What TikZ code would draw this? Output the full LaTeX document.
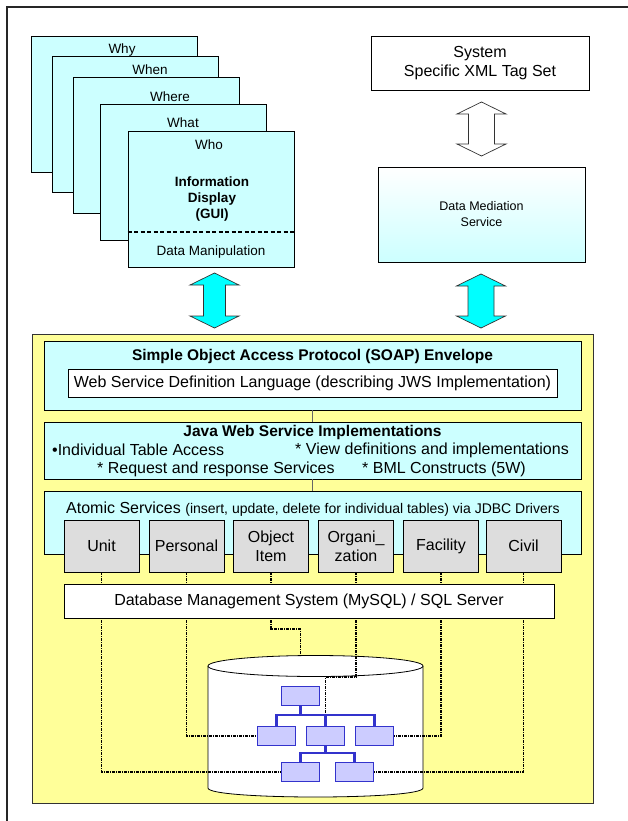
\documentclass[tikz,border=0pt]{standalone}
\usepackage{fontspec}
\setmainfont{Liberation Sans}
\usetikzlibrary{positioning}
\definecolor{PanelYellow}{HTML}{FFFF99}
\definecolor{LightCyan}{HTML}{CCFFFF}
\definecolor{ArrowCyan}{HTML}{00FFFF}
\definecolor{BoxGray}{HTML}{DDDDDD}
\definecolor{TreeFill}{HTML}{CCCCFF}
\definecolor{TreeBlue}{HTML}{3333CC}
\newcommand{\fsz}[2]{\fontsize{#1}{#2}\selectfont}
% block double arrow: style, centre x, top y, bottom y, shaft half width, head half width
\newcommand{\blockarrow}[6]{%
  \draw[#1] (#2,#3) -- (#2+#6,#3+12) -- (#2+#5,#3+12) -- (#2+#5,#4-12) -- (#2+#6,#4-12)
    -- (#2,#4) -- (#2-#6,#4-12) -- (#2-#5,#4-12) -- (#2-#5,#3+12) -- (#2-#6,#3+12) -- cycle;}
\pgfdeclarelayer{bg}
\pgfdeclarelayer{lines}
\pgfsetlayers{bg,lines,main}
\tikzset{
  frame/.style={line width=1.4pt, draw=black!85},
  card/.style={draw, fill=LightCyan, line width=0.8pt, minimum width=166pt, minimum height=136pt, inner sep=0pt},
  cardtext/.style={inner sep=0pt, font=\fsz{13.5}{16}},
  guisep/.style={line width=1.5pt, dash pattern=on 4pt off 2.5pt},
  plainbox/.style={draw, fill=white, line width=0.8pt, inner sep=0pt, align=center, font=\fsz{16}{19}},
  mediabox/.style={draw, top color=white, bottom color=LightCyan, line width=0.8pt, inner sep=0pt, align=center,
    minimum width=207pt, minimum height=95pt, font=\fsz{12.5}{16}},
  hollowarrow/.style={line width=0.7pt, draw=black!80, fill=white, line join=miter},
  cyanarrow/.style={line width=0.7pt, draw=black!80, fill=ArrowCyan, line join=miter},
  panel/.style={draw=black!80, fill=PanelYellow, line width=1pt, minimum width=561pt, minimum height=469pt, inner sep=0pt},
  cyanbox/.style={draw, fill=LightCyan, line width=0.8pt, minimum width=537pt, inner sep=0pt},
  titletext/.style={inner sep=0pt, font=\fsz{15.5}{18}\bfseries},
  bodytext/.style={inner sep=0pt, font=\fsz{16}{19}},
  stackline/.style={line width=0.8pt, draw=black!60},
  graybox/.style={draw, fill=BoxGray, line width=0.8pt, minimum width=75pt, minimum height=52pt, inner sep=0pt,
    align=center, font=\fsz{16}{19}},
  treebox/.style={draw=TreeBlue, fill=TreeFill, line width=1.8pt, minimum width=38pt, minimum height=19pt, inner sep=0pt},
  treeline/.style={draw=TreeBlue, line width=2.2pt},
  dbline/.style={line width=1.1pt, dash pattern=on 3pt off 1pt on 1pt off 1pt},
}

\begin{document}
\begin{tikzpicture}[x=1pt, y=-1pt]
  \useasboundingbox (0,0) rectangle (628,821);
  \begin{pgfonlayer}{bg}
    \fill[white] (0,0) rectangle (628,821);
  \end{pgfonlayer}
  \draw[frame] (7,821) -- (7,7) -- (628,7);

  % the 5W display cards
  \foreach \name/\cx/\cy/\lx/\ly/\txt in {why/114/104/122/50/Why,when/135/124/150/70/When,%
      where/156/145/170/97/Where,what/183/172/183/123/What,who/211/199/209/145/Who}{%
    \node[card] (c\name) at (\cx,\cy) {};
    \node[cardtext] (l\name) at (\lx,\ly) {\txt};
  }
  \node[cardtext, align=center, font=\fsz{13.5}{16}\bfseries] (gui) at (212,199) {Information\\Display\\(GUI)};
  \draw[guisep] (cwho.west |- 0,232) -- (cwho.east |- 0,232);
  \node[cardtext] (manip) at (211,252) {Data Manipulation};

  % mediation column
  \node[plainbox, minimum width=218pt, minimum height=54pt] (sysxml) at (480,63) {System\\Specific XML Tag Set};
  \node[mediabox] (mediation) at (481.5,214.5) {Data Mediation\\Service};
  \blockarrow{hollowarrow}{481.5}{102}{156}{13}{24.5}
  \blockarrow{cyanarrow}{481}{274}{328}{13}{24.5}
  \blockarrow{cyanarrow}{214.5}{273}{328}{11}{24.5}

  % web service panel
  \begin{pgfonlayer}{bg}
    \node[panel] (panel) at (312.5,568.5) {};
    \coordinate (cyl) at (315.5,666);
    \draw[fill=white, line width=0.8pt] (208,666) -- (208,788)
      .. controls (208,800) and (423,800) .. (423,788) -- (423,666);
    \draw[fill=white, line width=0.8pt] (cyl) ellipse [x radius=107.5, y radius=10.5];
  \end{pgfonlayer}

  \node[cyanbox, minimum height=69pt] (soap) at (312.5,375.5) {};
  \node[titletext] (soaptitle) at (312.5,356) {Simple Object Access Protocol (SOAP) Envelope};
  \node[plainbox, minimum width=489pt, minimum height=28pt] (wsdl) at (312.5,383)
    {Web Service Definition Language (describing JWS Implementation)};

  \node[cyanbox, minimum height=57pt] (jws) at (312.5,450.5) {};
  \node[titletext] (jwstitle) at (312.5,432) {Java Web Service Implementations};
  \node[bodytext, anchor=west] (item1) at (52,450) {•Individual Table Access};
  \node[bodytext, anchor=west] (item2) at (295,450) {* View definitions and implementations};
  \node[bodytext, anchor=west] (item3) at (97,469) {* Request and response Services};
  \node[bodytext, anchor=west] (item4) at (362,469) {* BML Constructs (5W)};

  \node[cyanbox, minimum height=63pt] (atomic) at (312.5,522.5) {};
  \node[bodytext, anchor=west] (atomictitle) at (66,509)
    {Atomic Services {\fsz{14}{16}(insert, update, delete for individual tables) via JDBC Drivers}};
  \draw[stackline] (soap) -- (jws);
  \draw[stackline] (jws) -- (atomic);

  \foreach \name/\cx/\txt in {unit/101.5/Unit,personal/186.5/Personal,objitem/271/{Object\\Item},%
      organi/356/{Organi\_\\zation},facility/441/Facility,civil/523.5/Civil}{%
    \node[graybox] (\name) at (\cx,546) {\txt};
  }
  \node[plainbox, minimum width=490pt, minimum height=34pt] (dbms) at (309,601)
    {Database Management System (MySQL) / SQL Server};

  % table tree inside the database
  \node[treebox] (troot) at (300.5,696) {};
  \node[treebox] (tl) at (276.5,736) {};
  \node[treebox] (tc) at (325.5,736) {};
  \node[treebox] (tr) at (374.5,736) {};
  \node[treebox] (tbl) at (300.5,772) {};
  \node[treebox] (tbr) at (354.5,772) {};
  \coordinate (barone) at (0,715);
  \coordinate (bartwo) at (0,753);
  \draw[treeline] (troot.south) -- (troot.south |- barone);
  \draw[treeline] (tl.north) -- (tl.north |- barone) -| (tr.north);
  \draw[treeline] (tc.north) -- (tc.north |- barone);
  \draw[treeline] (tc.south) -- (tc.south |- bartwo);
  \draw[treeline] (tbl.north) -- (tbl.north |- bartwo) -| (tbr.north);

  % driver links to the tables
  \coordinate (objjog) at (300.5,629);
  \coordinate (cylback) at (300.5,656);
  \coordinate (cylfront) at (315.5,677);
  \begin{pgfonlayer}{lines}
    \draw[dbline] (unit.south) |- (tbl.west);
    \draw[dbline] (personal.south) |- (tl.west);
    \draw[dbline] (objitem.south) |- (objjog) -- (cylback);
    \draw[dbline] (organi.south) -- (organi.south |- cylfront) -| (tc.north);
    \draw[dbline] (facility.south) |- (tr.east);
    \draw[dbline] (civil.south) |- (tbr.east);
  \end{pgfonlayer}
\end{tikzpicture}
\end{document}
